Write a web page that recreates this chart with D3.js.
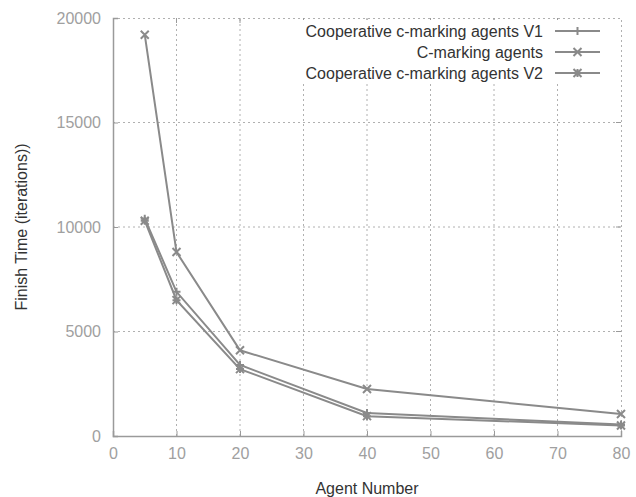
<!DOCTYPE html>
<html>
<head>
  <meta charset="utf-8">
  <title>Finish time vs agent number</title>
  <script src="https://d3js.org/d3.v7.min.js"></script>
  <style>
    body { margin: 0; background: #fff; }
    text { font-family: "Liberation Sans", Arial, sans-serif; }
  </style>
</head>
<body>
<svg width="636" height="497"></svg>
<script>
// chart data
var agents = [5, 10, 20, 40, 80]
var coopV1 = [10400, 6900, 3400, 1100, 550]
var cMarking = [19200, 8800, 4100, 2250, 1050]
var coopV2 = [10300, 6500, 3200, 950, 500]
var seriesNames = ["Cooperative c-marking agents V1", "C-marking agents", "Cooperative c-marking agents V2"]
var seriesMarks = ["plus", "cross", "star"]
var xTicks = [0, 10, 20, 30, 40, 50, 60, 70, 80]
var yTicks = [0, 5000, 10000, 15000, 20000]

var series = [coopV1, cMarking, coopV2]

var svg = d3.select("svg")
var plotL = 113, plotR = 621, plotT = 18, plotB = 436
var lineColor = "#8a8a8a"
var axisColor = "#9a9a9a"

var x = d3.scaleLinear().domain([0, 80]).range([plotL, plotR])
var y = d3.scaleLinear().domain([0, 20000]).range([plotB, plotT])

// grid
var grid = svg.append("g").attr("class", "grid")
grid.selectAll("line.v")
  .data(xTicks.slice(1, -1))
  .enter().append("line")
    .attr("x1", function (d) { return x(d) }).attr("x2", function (d) { return x(d) })
    .attr("y1", plotB).attr("y2", plotT)
grid.selectAll("line.h")
  .data(yTicks.slice(1, -1))
  .enter().append("line")
    .attr("x1", plotL).attr("x2", plotR)
    .attr("y1", function (d) { return y(d) }).attr("y2", function (d) { return y(d) })
grid.selectAll("line")
  .attr("stroke", "#b0b0b0").attr("stroke-width", 1).attr("stroke-dasharray", "2,3")

// dotted top/right border
svg.append("path")
  .attr("d", "M" + plotL + "," + (plotT + 0.5) + "H" + (plotR + 0.5) + "V" + plotB)
  .attr("fill", "none").attr("stroke", "#b0b0b0").attr("stroke-dasharray", "2,3")

// axes
var xAxis = d3.axisBottom(x).tickValues(xTicks).tickSize(-5).tickPadding(12).tickFormat(d3.format("d"))
var yAxis = d3.axisLeft(y).tickValues(yTicks).tickSize(-5).tickPadding(12).tickFormat(d3.format("d"))
var gx = svg.append("g").attr("transform", "translate(0," + plotB + ")").call(xAxis)
var gy = svg.append("g").attr("transform", "translate(" + plotL + ",0)").call(yAxis)
;[gx, gy].forEach(function (g) {
  g.select(".domain").attr("stroke", axisColor).attr("stroke-width", 1.5)
  g.selectAll(".tick line").attr("stroke", axisColor)
  g.selectAll(".tick text").attr("fill", "#a0a0a0").style("font-size", "16px")
})
// mirrored ticks top/right
svg.append("g").selectAll("line")
  .data(xTicks.slice(1, -1)).enter().append("line")
    .attr("x1", function (d) { return x(d) }).attr("x2", function (d) { return x(d) })
    .attr("y1", plotT).attr("y2", plotT + 5).attr("stroke", axisColor)
svg.append("g").selectAll("line")
  .data(yTicks.slice(1, -1)).enter().append("line")
    .attr("x1", plotR).attr("x2", plotR - 5)
    .attr("y1", function (d) { return y(d) }).attr("y2", function (d) { return y(d) }).attr("stroke", axisColor)

// axis titles
svg.append("text")
  .attr("x", (plotL + plotR) / 2).attr("y", 494)
  .attr("text-anchor", "middle").attr("fill", "#333").style("font-size", "16px")
  .text("Agent Number")
svg.append("text")
  .attr("transform", "translate(27," + ((plotT + plotB) / 2) + ") rotate(-90)")
  .attr("text-anchor", "middle").attr("fill", "#333").style("font-size", "16px")
  .text("Finish Time (iterations))")

// marker shapes
function markPath(type, cx, cy) {
  var s = 4
  var p = ""
  if (type === "plus" || type === "star")
    p += "M" + (cx - s) + "," + cy + "H" + (cx + s) + "M" + cx + "," + (cy - s) + "V" + (cy + s)
  if (type === "cross" || type === "star")
    p += "M" + (cx - s) + "," + (cy - s) + "L" + (cx + s) + "," + (cy + s) +
         "M" + (cx - s) + "," + (cy + s) + "L" + (cx + s) + "," + (cy - s)
  return p
}

var line = d3.line()
  .x(function (d, i) { return x(agents[i]) })
  .y(function (d) { return y(d) })

series.forEach(function (vals, k) {
  var g = svg.append("g")
  g.append("path")
    .attr("d", line(vals))
    .attr("fill", "none").attr("stroke", lineColor).attr("stroke-width", 2)
  g.selectAll("path.m")
    .data(vals).enter().append("path")
      .attr("class", "m")
      .attr("d", function (d, i) { return markPath(seriesMarks[k], x(agents[i]), y(d)) })
      .attr("stroke", lineColor).attr("stroke-width", 2).attr("fill", "none")
})

// legend
var legend = svg.append("g")
legend.append("rect")
  .attr("x", 298).attr("y", 20).attr("width", 318).attr("height", 62).attr("fill", "#fff")
seriesNames.forEach(function (name, k) {
  var ly = 31 + k * 21
  legend.append("text")
    .attr("x", 543).attr("y", ly + 5.5)
    .attr("text-anchor", "end").attr("fill", "#333").style("font-size", "16px")
    .text(name)
  legend.append("line")
    .attr("x1", 555).attr("x2", 600).attr("y1", ly).attr("y2", ly)
    .attr("stroke", lineColor).attr("stroke-width", 2)
  legend.append("path")
    .attr("d", markPath(seriesMarks[k], 577.5, ly))
    .attr("stroke", lineColor).attr("stroke-width", 2).attr("fill", "none")
})
</script>
</body>
</html>
